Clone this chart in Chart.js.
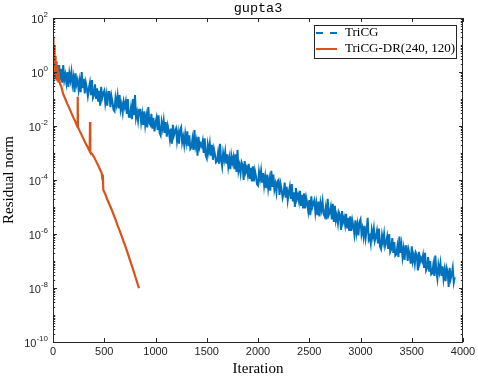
<!DOCTYPE html>
<html>
<head>
<meta charset="utf-8">
<script src="https://cdn.jsdelivr.net/npm/chart.js@4"></script>
<style>
  html, body { margin: 0; padding: 0; background: #fff; }
</style>
</head>
<body>
<canvas id="myChart" width="478" height="376"></canvas>
<script>
// TriCG residuals, one value every 10 iterations
const tricgStep = 10;
const tricgRes = [
  // 0 - 240
  2, 7.1e-1, 1.4, 5.6e-1, 1.8,  7.1e-1, 1.8, 5e-1, 1.3, 4e-1,  1.8, 5e-1, 8e-1, 4e-1, 1,
  2.8e-1, 8.9e-1, 5e-1, 1, 3.5e-1,  6.3e-1, 1.8e-1, 8.9e-1, 3.5e-1, 5e-1,
  // 250 - 490
  2.2e-1, 4.5e-1, 1.8e-1, 1, 2.5e-1,  5.6e-1, 1.6e-1, 4e-1, 2.5e-1, 1.3e-1,  2.5e-1, 4e-1, 1.4e-1, 5e-1, 1.1e-1,
  1.4e-1, 3.5e-1, 1e-1, 2.5e-1, 8e-2,  2e-1, 5.6e-2, 2.8e-1, 1.1e-1, 1.6e-1,
  // 500 - 740
  2e-1, 7.1e-2, 1.4e-1, 5.6e-2, 1.8e-1,  1.8e-1, 5e-2, 1.3e-1, 8e-2, 4e-2,  3.5e-2, 1.1e-1, 6.3e-2, 1.3e-1, 4.5e-2,
  1.4e-1, 4e-2, 6.3e-2, 3.2e-2, 8e-2,  5e-2, 8e-2, 2.8e-2, 1e-1, 2.2e-2,
  // 750 - 990
  2.2e-2, 4.5e-2, 1.8e-2, 1e-1, 2.5e-2,  1.4e-1, 2e-2, 3.2e-2, 1.6e-2, 4e-2,  4e-2, 1.4e-2, 2.8e-2, 1.1e-2, 3.5e-2,
  1.1e-2, 2.2e-2, 8.9e-3, 5e-2, 1.3e-2,  1.1e-2, 2.8e-2, 8e-3, 2e-2, 6.3e-3,
  // 1000 - 1240
  1.3e-2, 2e-2, 7.1e-3, 2.5e-2, 5.6e-3,  4.5e-3, 1.4e-2, 8e-3, 1.6e-2, 5.6e-3,  1.4e-2, 4e-3, 1e-2, 6.3e-3, 3.2e-3,
  8e-3, 2.2e-3, 1.1e-2, 4.5e-3, 6.3e-3,  8e-3, 2.8e-3, 5.6e-3, 2.2e-3, 7.1e-3,
  // 1250 - 1490
  8.9e-3, 2.5e-3, 4e-3, 2e-3, 5e-3,  2.5e-3, 6.3e-3, 1.8e-3, 4.5e-3, 1.4e-3,  1.6e-3, 3.2e-3, 1.3e-3, 7.1e-3, 1.8e-3,
  2.8e-3, 8e-4, 4e-3, 1.6e-3, 2.2e-3,  1.8e-3, 2.8e-3, 1e-3, 3.5e-3, 8e-4,
  // 1500 - 1740
  6.3e-4, 2e-3, 1.1e-3, 2.2e-3, 8e-4,  2e-3, 5.6e-4, 1.4e-3, 8.9e-4, 4.5e-4,  5e-4, 1e-3, 4e-4, 2.2e-3, 5.6e-4,
  3.2e-4, 1e-3, 5.6e-4, 1.1e-3, 4e-4,  8.9e-4, 3.2e-4, 6.3e-4, 2.5e-4, 8e-4,
  // 1750 - 1990
  4.5e-4, 7.1e-4, 2.5e-4, 8.9e-4, 2e-4,  1.3e-3, 2.2e-4, 3.5e-4, 1.8e-4, 4.5e-4,  3.5e-4, 1e-4, 5e-4, 2e-4, 2.8e-4,
  1.6e-4, 4e-4, 1.1e-4, 2.8e-4, 8.9e-5,  3.2e-4, 8.9e-5, 2.2e-4, 1.4e-4, 7.1e-5,
  // 2000 - 2240
  6.3e-5, 2e-4, 1.1e-4, 2.2e-4, 8e-5,  1.8e-4, 6.3e-5, 1.3e-4, 5e-5, 1.6e-4,  5e-5, 1e-4, 4e-5, 2.2e-4, 5.6e-5,
  1.6e-4, 4.5e-5, 7.1e-5, 3.5e-5, 8.9e-5,  1e-4, 2.8e-5, 7.1e-5, 4.5e-5, 2.2e-5,
  // 2250 - 2490
  3.2e-5, 8e-5, 2.2e-5, 5.6e-5, 1.8e-5,  3.5e-5, 5.6e-5, 2e-5, 7.1e-5, 1.6e-5,  3.5e-5, 1e-5, 5e-5, 2e-5, 2.8e-5,
  1.6e-5, 4e-5, 1.1e-5, 2.8e-5, 8.9e-6,  3.2e-5, 8.9e-6, 2.2e-5, 1.4e-5, 7.1e-6,
  // 2500 - 2740
  1.8e-5, 5e-6, 2.5e-5, 1e-5, 1.4e-5,  1.8e-5, 6.3e-6, 1.3e-5, 5e-6, 1.6e-5,  4.5e-6, 1.4e-5, 8e-6, 1.6e-5, 5.6e-6,
  4.5e-6, 8.9e-6, 3.5e-6, 2e-5, 5e-6,  6.3e-6, 1e-5, 3.5e-6, 1.3e-5, 2.8e-6,
  // 2750 - 2990
  1.1e-5, 3.2e-6, 5e-6, 2.5e-6, 6.3e-6,  5e-6, 1.4e-6, 7.1e-6, 2.8e-6, 4e-6,  2.2e-6, 5.6e-6, 1.6e-6, 4e-6, 1.3e-6,
  4.5e-6, 1.3e-6, 3.2e-6, 2e-6, 1e-6,  3.2e-6, 1.1e-6, 2.2e-6, 8.9e-7, 2.8e-6,
  // 3000 - 3240
  3.5e-6, 1e-6, 1.6e-6, 8e-7, 2e-6,  7.1e-7, 1.4e-6, 4e-6, 6.3e-7, 8e-7,  4.5e-7, 1.4e-6, 8e-7, 1.6e-6, 5.6e-7,
  8e-7, 1.3e-6, 4.5e-7, 1.6e-6, 3.5e-7,  2.8e-7, 8.9e-7, 5e-7, 1e-6, 3.5e-7,
  // 3250 - 3490
  5e-7, 8e-7, 2.8e-7, 1e-6, 2.2e-7,  2.8e-7, 7.1e-7, 2e-7, 5e-7, 1.6e-7,  1.8e-7, 3.5e-7, 1.4e-7, 8e-7, 2e-7,
  4e-7, 1.4e-7, 2.8e-7, 1.1e-7, 3.5e-7,  3.5e-7, 1e-7, 2.5e-7, 1.6e-7, 8e-8,
  // 3500 - 3740
  3.5e-7, 1e-7, 1.6e-7, 8e-8, 2e-7,  1.6e-7, 4.5e-8, 2.2e-7, 8.9e-8, 1.3e-7,  1e-7, 1.6e-7, 5.6e-8, 2e-7, 4.5e-8,
  5.6e-8, 1.4e-7, 4e-8, 1e-7, 3.2e-8,  3.5e-8, 7.1e-8, 2.8e-8, 1.6e-7, 4e-8,
  // 3750 - 3920
  2.2e-8, 7.1e-8, 4e-8, 8e-8, 2.8e-8,  6.3e-8, 2.2e-8, 4.5e-8, 1.8e-8, 5.6e-8,  4e-8, 1.1e-8, 5.6e-8, 2.2e-8, 3.2e-8,
  5.6e-8, 1.6e-8, 2.5e-8
];

// TriCG-DR(240,120) residuals
const drIter = [0, 5, 10, 15, 20, 25, 30, 35, 40, 45, 50, 55, 60, 70, 80,
  100, 120, 140, 160, 180, 200, 220, 238, 241, 244, 260, 280, 300, 320, 340,
  358, 361, 364, 380, 400, 420, 440, 460, 475, 482, 486, 491, 510, 530, 550,
  573, 590, 610, 630, 654, 670, 690, 710, 735, 760, 780, 800, 820, 839];
const drRes = [20, 0.6, 10, 1.2, 4, 0.7, 2.5, 0.5, 1.6, 0.45, 1.0, 0.4, 0.6, 0.35, 0.3,
  0.15, 0.1, 0.066, 0.045, 0.03, 0.02, 0.014, 0.0095, 0.12, 0.009, 0.0066, 0.0046, 0.0032, 0.0022, 0.0016,
  0.00115, 0.014, 0.00105, 9.3e-4, 7.1e-4, 5e-4, 3.5e-4, 2.4e-4, 1.8e-4, 1.1e-4, 1.6e-4, 4.3e-5, 3e-5, 1.9e-5, 1.26e-5,
  7.9e-6, 5.4e-6, 3.4e-6, 2.1e-6, 1.23e-6, 8.3e-7, 5.1e-7, 3.2e-7, 1.66e-7, 8.5e-8, 5e-8, 2.9e-8, 1.66e-8, 9.8e-9];

const xTicks = [0, 500, 1000, 1500, 2000, 2500, 3000, 3500, 4000];
const yTickExp = [2, 0, -2, -4, -6, -8, -10];
const seriesNames = ["TriCG", "TriCG-DR(240, 120)"];

const blue = "#0072BD";
const orange = "#D95319";
const axisCol = "#262626";

const tricgData = tricgRes.map((v, i) => ({ x: i * tricgStep, y: v }));
const drData = drIter.map((it, i) => ({ x: it, y: drRes[i] }));

// MATLAB-like box, inward ticks, labels, legend
const axesPlugin = {
  id: "matlabAxes",
  afterDraw(chart) {
    const ctx = chart.ctx;
    const a = chart.chartArea;
    const xs = chart.scales.x, ys = chart.scales.y;
    ctx.save();
    ctx.strokeStyle = axisCol;
    ctx.lineWidth = 1;
    ctx.beginPath();
    // x ticks
    xTicks.forEach(t => {
      const px = Math.round(xs.getPixelForValue(t)) + 0.5;
      ctx.moveTo(px, a.bottom); ctx.lineTo(px, a.bottom - 4);
      ctx.moveTo(px, a.top); ctx.lineTo(px, a.top + 4);
    });
    // y ticks (log)
    for (let n = -10; n <= 2; n++) {
      for (let k = 1; k <= 9; k++) {
        const v = k * Math.pow(10, n);
        if (v > 100.0001) break;
        const major = (k === 1 && n % 2 === 0);
        const len = major ? 4 : 2.2;
        const py = Math.round(ys.getPixelForValue(v)) + 0.5;
        ctx.moveTo(a.left, py); ctx.lineTo(a.left + len, py);
        ctx.moveTo(a.right, py); ctx.lineTo(a.right - len, py);
      }
    }
    ctx.stroke();
    ctx.strokeRect(a.left + 0.5, a.top + 0.5, a.right - a.left - 1, a.bottom - a.top);

    // x tick labels
    ctx.fillStyle = axisCol;
    ctx.font = "11px 'Liberation Sans', Arial, sans-serif";
    ctx.textAlign = "center";
    ctx.textBaseline = "middle";
    xTicks.forEach(t => ctx.fillText(String(t), xs.getPixelForValue(t), a.bottom + 10));

    // y tick labels 10^e
    const rightEdge = a.left - 5;
    yTickExp.forEach(e => {
      const py = ys.getPixelForValue(Math.pow(10, e));
      ctx.font = "8px 'Liberation Sans', Arial, sans-serif";
      const es = String(e);
      const we = ctx.measureText(es).width;
      ctx.textAlign = "left";
      ctx.textBaseline = "alphabetic";
      ctx.fillText(es, rightEdge - we, py - 1);
      ctx.font = "11px 'Liberation Sans', Arial, sans-serif";
      ctx.textAlign = "right";
      ctx.fillText("10", rightEdge - we, py + 5);
    });

    // title
    ctx.fillStyle = "#000";
    ctx.font = "13.5px 'Liberation Mono', 'DejaVu Sans Mono', monospace";
    ctx.textAlign = "center";
    ctx.textBaseline = "middle";
    ctx.fillText("gupta3", (a.left + a.right) / 2, 8);

    // axis titles
    ctx.font = "15px 'Liberation Serif', 'DejaVu Serif', serif";
    ctx.fillText("Iteration", (a.left + a.right) / 2, 369);
    ctx.save();
    ctx.translate(9, (a.top + a.bottom) / 2);
    ctx.rotate(-Math.PI / 2);
    ctx.fillText("Residual norm", 0, 0);
    ctx.restore();

    // legend
    const lx = 314, ly = 25, lw = 142, lh = 33;
    ctx.fillStyle = "#fff";
    ctx.fillRect(lx, ly, lw, lh);
    ctx.strokeStyle = axisCol;
    ctx.strokeRect(lx + 0.5, ly + 0.5, lw, lh);
    const rows = [{ c: blue, dash: [7, 7], y: 33 }, { c: orange, dash: [], y: 49 }];
    rows.forEach((r, i) => {
      ctx.strokeStyle = r.c;
      ctx.lineWidth = 2;
      ctx.setLineDash(r.dash);
      ctx.beginPath();
      ctx.moveTo(316, r.y); ctx.lineTo(337, r.y);
      ctx.stroke();
      ctx.setLineDash([]);
      ctx.fillStyle = "#000";
      ctx.font = "13px 'Liberation Serif', 'DejaVu Serif', serif";
      ctx.textAlign = "left";
      ctx.textBaseline = "middle";
      ctx.fillText(seriesNames[i], 345, r.y);
    });
    ctx.restore();
  }
};

const ctx = document.getElementById("myChart").getContext("2d");
const myChart = new Chart(ctx, {
  type: "line",
  data: {
    datasets: [
      {
        label: seriesNames[0],
        data: tricgData,
        borderColor: blue,
        borderWidth: 2,
        pointRadius: 0,
        tension: 0,
        order: 2,
      },
      {
        label: seriesNames[1],
        data: drData,
        borderColor: orange,
        borderWidth: 2.2,
        pointRadius: 0,
        tension: 0,
        order: 1,
      },
    ],
  },
  options: {
    responsive: false,
    animation: false,
    layout: { padding: { left: 53, right: 15, top: 18, bottom: 34 } },
    plugins: {
      legend: { display: false },
      tooltip: { enabled: false },
    },
    scales: {
      x: { type: "linear", min: 0, max: 4000, display: false },
      y: { type: "logarithmic", min: 1e-10, max: 1e2, display: false },
    },
  },
  plugins: [axesPlugin],
});
</script>
</body>
</html>
